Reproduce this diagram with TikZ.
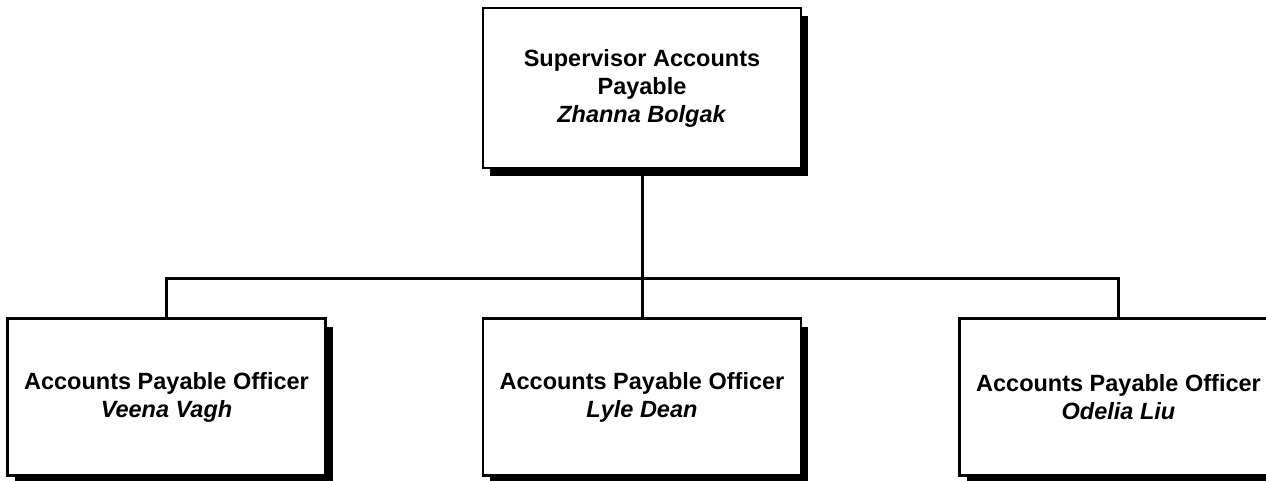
\documentclass[tikz,border=0pt]{standalone}
\usepackage{fontspec}
\setmainfont{Liberation Sans}
\usetikzlibrary{positioning, shadows}

\begin{document}
\begin{tikzpicture}[x=1pt, y=1pt, node distance=148pt]
    \tikzstyle{post} = [rectangle, minimum width=318pt, minimum height=157pt, text centered, align=center, draw=black, line width=2.5pt, fill=white, font=\fontsize{23.5}{28}\selectfont\bfseries, drop shadow={shadow xshift=7pt, shadow yshift=-8pt, fill=black, opacity=1}]
    \tikzstyle{link} = [line width=3pt]

    \clip (0,0) rectangle (1266,480);
    \fill [white] (0,0) rectangle (1266,480);

    \node (super) [post, minimum height=160pt] at (642,392) {Supervisor Accounts\\Payable\\\textit{Zhanna Bolgak}};
    \node (dean) [post, below=148pt of super] {Accounts Payable Officer\\\textit{Lyle Dean}};
    \node (vagh) [post, left=155pt of dean] {Accounts Payable Officer\\\textit{Veena Vagh}};
    \node (liu) [post, right=156pt of dean] {Accounts Payable Officer\\\textit{Odelia Liu}};

    \coordinate (bus) at (642,202);
    \draw [link] (super) -- (bus);
    \draw [link] (bus) -- (dean);
    \draw [link] (bus) -| (vagh);
    \draw [link] (bus) -| (liu);
\end{tikzpicture}
\end{document}
